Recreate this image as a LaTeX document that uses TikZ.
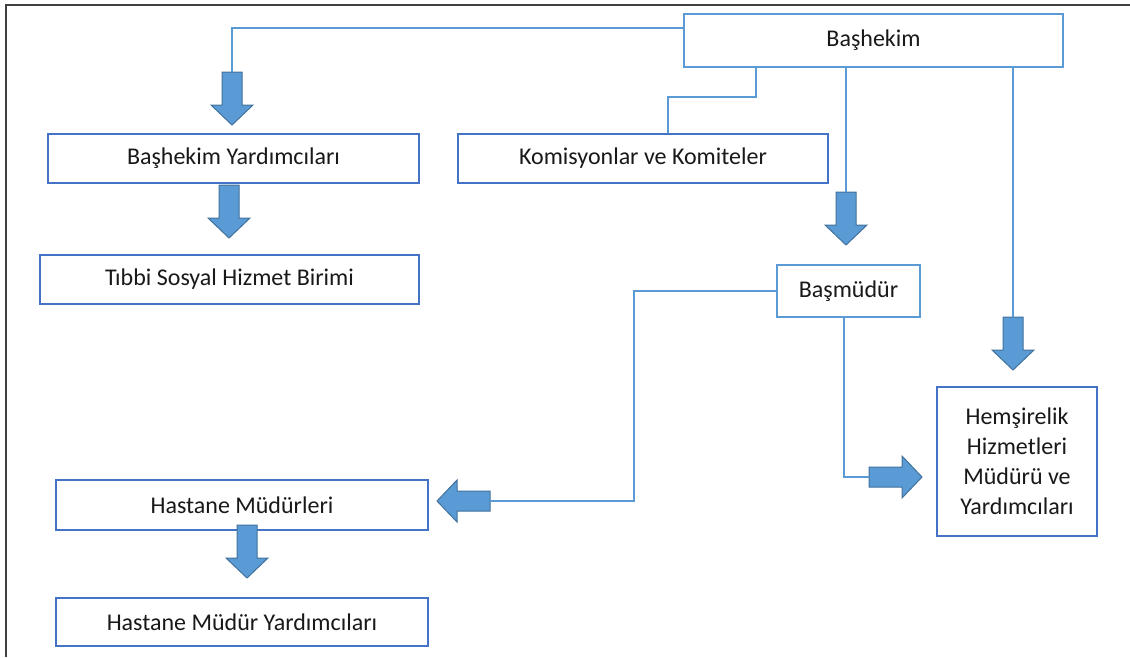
\documentclass[tikz,border=0pt]{standalone}
\usepackage{fontspec}
\setmainfont{Carlito}
\definecolor{boxblue}{HTML}{4472C4}
\definecolor{lightblue}{HTML}{5B9BD5}
\definecolor{arrowedge}{HTML}{41719C}
\definecolor{framegray}{HTML}{404040}
\tikzset{
  box/.style={draw=boxblue, line width=2pt, fill=white, inner sep=0pt, align=center,
    font=\fontsize{24}{30}\selectfont, text=black!90},
  lbox/.style={box, draw=lightblue},
  conn/.style={draw=lightblue, line width=2pt},
  blockarrow/.pic={
    \fill[lightblue, draw=arrowedge, line width=1pt, line join=miter]
      (0,0) -- (-21,-20) -- (-10,-20) -- (-10,-53) -- (10,-53) -- (10,-20) -- (21,-20) -- cycle;
    \coordinate (-tail) at (0,-53);
  }
}
\begin{document}
\begin{tikzpicture}[x=1pt,y=-1pt]
\useasboundingbox (0,0) rectangle (1130,657);
\draw[framegray, line width=1.5pt] (6,657) -- (6,5) -- (1130,5);

\node[lbox, minimum width=379, minimum height=53] (bh) at (873.5,40.5) {Başhekim};
\node[box, minimum width=371, minimum height=49] (by) at (233.5,158.5) {Başhekim Yardımcıları};
\node[box, minimum width=370, minimum height=49] (kk) at (643,158.5) {Komisyonlar ve Komiteler};
\node[box, minimum width=379, minimum height=49] (ts) at (229.5,279.5) {Tıbbi Sosyal Hizmet Birimi};
\node[lbox, minimum width=143, minimum height=52] (bm) at (848.5,291) {Başmüdür};
\node[box, minimum width=160, minimum height=149] (hh) at (1017,461.5) {Hemşirelik\\Hizmetleri\\Müdürü ve\\Yardımcıları};
\node[box, minimum width=372, minimum height=50] (hm) at (242,505) {Hastane Müdürleri};
\node[box, minimum width=372, minimum height=48] (hy) at (242,622) {Hastane Müdür Yardımcıları};

\pic (a1) at (232,125) {blockarrow};
\pic (a2) at (229,238) {blockarrow};
\pic (a3) at (846,245) {blockarrow};
\pic (a4) at (1013,370) {blockarrow};
\pic[rotate=-90] (a5) at (437,501) {blockarrow};
\pic[rotate=90] (a6) at (922,477) {blockarrow};
\pic (a7) at (247,578) {blockarrow};

\draw[conn] (bh.north west) ++(0,15) -| (a1-tail);
\draw[conn] (bh.south west) ++(73,0) -- ++(0,29) -| ([xshift=25pt]kk.north);
\draw[conn] (bh.south west) ++(163,0) -- (a3-tail);
\draw[conn] (bh.south west) ++(330,0) -- (a4-tail);
\draw[conn] (bm.west) -| ([xshift=144pt]a5-tail) -- (a5-tail);
\draw[conn] ([xshift=-5pt]bm.south) |- (a6-tail);
\end{tikzpicture}
\end{document}
